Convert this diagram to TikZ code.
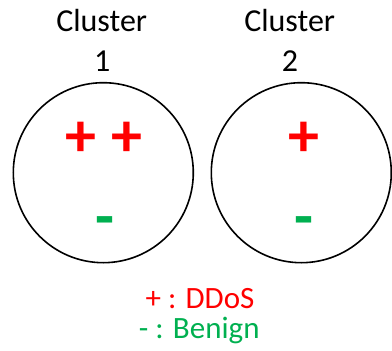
\documentclass[tikz,border=0pt]{standalone}
\usepackage{fontspec}
\setmainfont{Carlito}
\definecolor{ddos}{RGB}{255,0,0}
\definecolor{benign}{RGB}{0,176,80}
\tikzset{
  cluster/.style={draw=black, line width=1.6pt, circle, minimum size=180pt, inner sep=0pt},
  title/.style={font=\fontsize{32}{39}\selectfont, align=center, anchor=base, inner sep=0pt},
  mark plus/.style={text=ddos, font=\fontsize{62}{70}\selectfont\bfseries, anchor=base, inner sep=0pt},
  mark minus/.style={text=benign, font=\fontsize{62}{70}\selectfont\bfseries, anchor=base, inner sep=0pt},
  legend/.style={font=\fontsize{31}{37}\selectfont, anchor=base, inner sep=0pt}
}
\begin{document}
\begin{tikzpicture}[x=1pt,y=-1pt]
\useasboundingbox (0,0) rectangle (392,351);
\node[cluster] (c1) at (103.3,172.7) {};
\node[cluster] (c2) at (301.3,172.7) {};
\node[title] (t1a) at (101.7,31.7) {Cluster};
\node[title] (t1b) at (102.3,71.7) {1};
\node[title] (t2a) at (289.7,31.7) {Cluster};
\node[title] (t2b) at (290,71.7) {2};
\node[mark plus] (p1) at (80.5,156) {+};
\node[mark plus] (p2) at (127.2,156) {+};
\node[mark plus] (p3) at (304,156) {+};
\node[mark minus] (m1) at (105,237.5) {-};
\node[mark minus] (m2) at (304,237.5) {-};
\node[legend, text=ddos] (l1) at (200,308.3) {+ : DDoS};
\node[legend, text=benign] (l2) at (199.2,338.3) {- : Benign};
\end{tikzpicture}
\end{document}
